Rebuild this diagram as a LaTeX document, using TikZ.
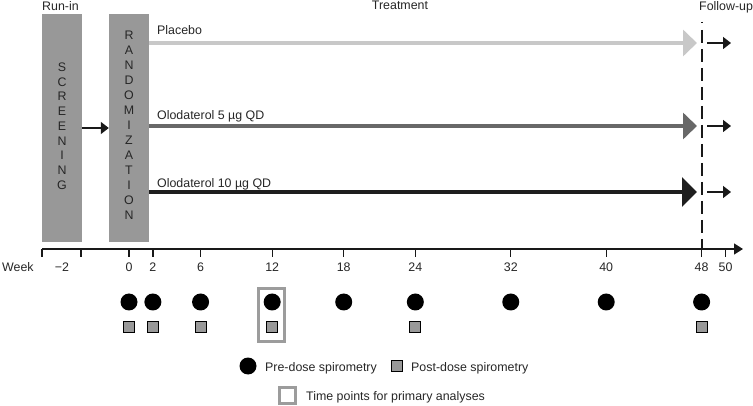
\documentclass[tikz,border=0pt]{standalone}
\usepackage{fontspec}
\setmainfont{Liberation Sans}
\usetikzlibrary{arrows.meta}
\definecolor{boxgray}{HTML}{989898}
\definecolor{placebo}{HTML}{C8C8C8}
\definecolor{olofive}{HTML}{686868}
\definecolor{oloten}{HTML}{1E1E1E}
\definecolor{sqfill}{HTML}{999999}
\definecolor{hlgray}{HTML}{9C9C9C}
\begin{document}
\begin{tikzpicture}[x=1pt,y=-1pt,
  txt/.style={font=\fontsize{12.4}{14}\selectfont, inner sep=0pt, text=black!85},
  letter/.style={txt, anchor=center},
  phasebox/.style={fill=boxgray, minimum width=40pt, minimum height=228pt, inner sep=0pt},
  armline/.style={line width=4pt},
  thinarrow/.style={line width=1.5pt, -{Triangle[length=8pt,width=12pt]}},
  tickline/.style={line width=1.3pt},
  pre/.style={circle, fill=black, minimum size=17pt, inner sep=0pt},
  post/.style={rectangle, draw=black, line width=1pt, fill=sqfill, minimum size=11pt, inner sep=0pt},
  hlbox/.style={rectangle, draw=hlgray, line width=3pt, inner sep=0pt}
]
\useasboundingbox (0,0) rectangle (753,406);

% phase boxes
\node[phasebox] (scr) at (62,128) {};
\node[phasebox] (rand) at (129,128) {};
\foreach \l [count=\i from 0] in {S,C,R,E,E,N,I,N,G}
  \node[letter] (s\i) at (62,{67+14.75*\i}) {\l};
\foreach \l [count=\i from 0] in {R,A,N,D,O,M,I,Z,A,T,I,O,N}
  \node[letter] (r\i) at (129,{35+15*\i}) {\l};
\draw[thinarrow, black!90] (scr) -- (rand);

% headings
\node[txt, anchor=base west] (runin) at (42,11) {Run-in};
\node[txt, anchor=base] (treat) at (400,10) {Treatment};
\node[txt, anchor=base west] (follow) at (699,11) {Follow-up};

% arms
\coordinate (pa) at (149,43);  \coordinate (pb) at (697,43);
\coordinate (fa) at (149,126); \coordinate (fb) at (697,126);
\coordinate (ta) at (149,192); \coordinate (tb) at (697,192);
\draw[armline, placebo, -{Triangle[length=14pt,width=26pt]}] (pa) -- (pb);
\draw[armline, olofive, -{Triangle[length=14pt,width=26pt]}] (fa) -- (fb);
\draw[armline, oloten, -{Triangle[length=15pt,width=29pt]}] (ta) -- (tb);
\node[txt, anchor=base west] (lp) at (157,35) {Placebo};
\node[txt, anchor=base west] (lf) at (157,120) {Olodaterol 5 µg QD};
\node[txt, anchor=base west] (lt) at (157,188) {Olodaterol 10 µg QD};

% follow-up arrows
\foreach \y/\n in {43/a,126/b,192/c}{
  \coordinate (u\n) at (707,\y); \coordinate (v\n) at (731,\y);
  \draw[thinarrow, black!90] (u\n) -- (v\n);
}

% dashed line
\coordinate (d0) at (702,22); \coordinate (d1) at (702,249);
\draw[line width=1.6pt, black!90, dash pattern=on 1pt off 7pt on 13pt off 6pt on 13pt off 6pt on 13pt off 6pt on 13pt off 6pt on 13pt off 6pt on 13pt off 6pt on 13pt off 6pt on 13pt off 6pt on 13pt off 6pt on 13pt off 6pt on 13pt off 6pt on 13pt off 6pt] (d0) -- (d1);

% axis
\coordinate (ax0) at (42,249); \coordinate (ax1) at (743,249);
\draw[tickline, black!90, -{Triangle[length=9pt,width=11pt]}] (ax0) -- (ax1);
\foreach \x/\n in {42/l,81/m}{
  \coordinate (t\n) at (\x,249); \coordinate (b\n) at (\x,257);
  \draw[tickline, black!90] (t\n) -- (b\n);
}
\foreach \w in {0,2,6,12,18,24,32,40,48,50}{
  \coordinate (tw\w) at ({129+11.93*\w},249);
  \coordinate (bw\w) at ({129+11.93*\w},257);
  \draw[tickline, black!90] (tw\w) -- (bw\w);
  \node[txt, anchor=base] (lw\w) at ({129+11.93*\w},272) {\w};
}
\coordinate (top48) at ({129+11.93*48},240);
\draw[tickline, black!90] (top48) -- (tw48);
\node[txt, anchor=base] (lwm2) at (62,272) {−2};
\node[txt, anchor=base west] (week) at (2,272) {Week};

% markers
\foreach \w in {0,2,6,12,18,24,32,40,48}
  \node[pre] (c\w) at ({129+11.93*\w},302) {};
\foreach \w in {0,2,6,12,24,48}
  \node[post] (q\w) at ({129+11.93*\w},327) {};
\node[hlbox, minimum width=26pt, minimum height=53pt] (hl) at (271.5,315) {};

% legend
\node[pre] (lgc) at (248,366) {};
\node[txt, anchor=base west] (lgct) at (265,371) {Pre-dose spirometry};
\node[post] (lgq) at (397,366) {};
\node[txt, anchor=base west] (lgqt) at (411,371) {Post-dose spirometry};
\node[hlbox, minimum size=16pt] (lgh) at (287,395) {};
\node[txt, anchor=base west] (lght) at (306,400) {Time points for primary analyses};
\end{tikzpicture}
\end{document}
